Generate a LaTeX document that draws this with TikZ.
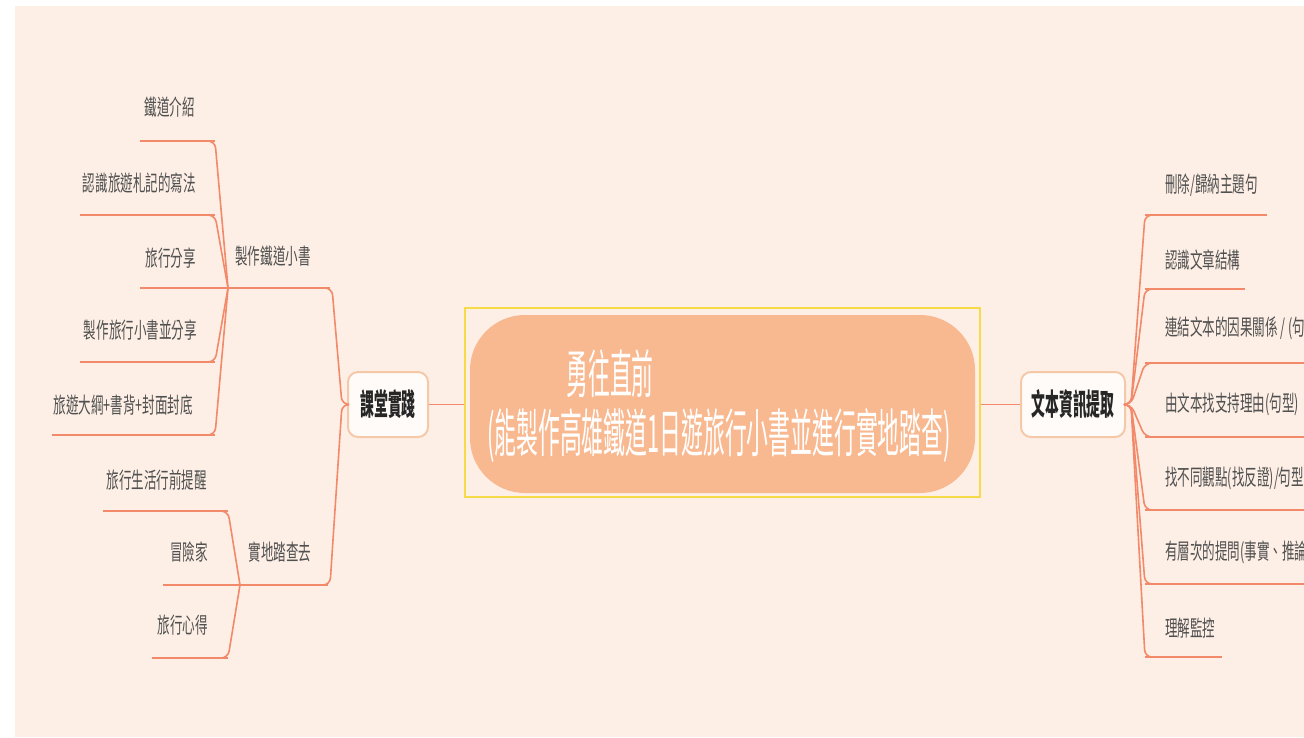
\documentclass[tikz,border=0pt]{standalone}
\usepackage{fontspec}
\usetikzlibrary{calc}
\newfontfamily\leaffont[FakeStretch=0.57]{Noto Sans CJK TC}
\newfontfamily\hubfont[FakeStretch=0.46]{Noto Sans CJK TC}
\newfontfamily\centfont[FakeStretch=0.42]{Noto Sans CJK TC}
\definecolor{bgc}{HTML}{FDEFE5}
\definecolor{linec}{HTML}{F2896A}
\definecolor{centc}{HTML}{F9B990}
\definecolor{yel}{HTML}{F6DA48}
\definecolor{hubb}{HTML}{F5C9A8}
\definecolor{hubf}{HTML}{FFFBF8}
\definecolor{leaft}{HTML}{505050}
\begin{document}
\begin{tikzpicture}[x=1pt,y=-1pt,
  leaf/.style={inner sep=0pt, text=leaft, font=\leaffont\fontsize{22}{26}\selectfont},
  hub/.style={draw=hubb, line width=2pt, fill=hubf, rounded corners=10pt, minimum height=65pt, inner sep=0pt, text=black!85, font=\hubfont\bfseries\fontsize{30}{34}\selectfont},
  ctext/.style={inner sep=0pt, text=white, font=\centfont\fontsize{52}{58}\selectfont},
  uline/.style={draw=linec, line width=2.8pt},
  conn/.style={draw=linec, line width=1.6pt, rounded corners=7pt}
]
\useasboundingbox (0,0) rectangle (1304,737);
\clip (0,0) rectangle (1304,737);
\fill[white] (0,0) rectangle (1304,737);
\fill[bgc] (15,6) rectangle (1304,737);

% central
\node[draw=yel, line width=2.5pt, minimum width=515pt, minimum height=189pt, inner sep=0pt] (c) at (722.5,402.5) {};
\node[fill=centc, rounded corners=55pt, minimum width=505pt, minimum height=178pt, inner sep=0pt] (ci) at (722.5,404) {};
\node[ctext] (t1) at (610,374) {勇往直前};
\node[ctext] (t2) at (719,436) {(能製作高雄鐵道1日遊旅行小書並進行實地踏查)};

% hubs
\node[hub, minimum width=80pt] (kt) at (388,404.5) {課堂實踐};
\node[hub, minimum width=104pt] (rn) at (1073,404.5) {文本資訊提取};
\draw[conn] (kt.east) -- (kt.east -| c.west);
\draw[conn] (c.east |- rn.west) -- (rn.west);

% left sub-nodes
\node[leaf] (s1) at (273,256) {製作鐵道小書};
\node[leaf] (s2) at (280,552) {實地踏查去};
\coordinate (s1l) at (228,288); \coordinate (s1r) at (330,288);
\coordinate (s2l) at (240,585); \coordinate (s2r) at (328,585);
\draw[uline] (s1l) -- (s1r);
\draw[uline] (s2l) -- (s2r);
\draw[conn] (kt.west) -- ++(-5,0) -- ($(s1r)+(2,0)$) -- ($(s1r)+(-12,0)$);
\draw[conn] (kt.west) -- ++(-5,0) -- ($(s2r)+(2,0)$) -- ($(s2r)+(-12,0)$);

% left leaves group 1
\node[leaf, anchor=east] (a1) at (195,107) {鐵道介紹};
\node[leaf, anchor=east] (a2) at (196,183) {認識旅遊札記的寫法};
\node[leaf, anchor=east] (a3) at (196,258) {旅行分享};
\node[leaf, anchor=east] (a4) at (197,330) {製作旅行小書並分享};
\node[leaf, anchor=east] (a5) at (193,405) {旅遊大綱+書背+封面封底};
\coordinate (a1l) at (140,141); \coordinate (a1r) at (215,141);
\coordinate (a2l) at (80,215);  \coordinate (a2r) at (215,215);
\coordinate (a3l) at (140,288);
\coordinate (a4l) at (80,362);  \coordinate (a4r) at (215,362);
\coordinate (a5l) at (52,435);  \coordinate (a5r) at (215,435);
\draw[uline] (a1l) -- (a1r);
\draw[uline] (a2l) -- (a2r);
\draw[uline] (a3l) -- (s1l);
\draw[uline] (a4l) -- (a4r);
\draw[uline] (a5l) -- (a5r);
\draw[conn] (s1l) -- (a1r) -- ++(-12,0);
\draw[conn] (s1l) -- (a2r) -- ++(-12,0);
\draw[conn] (s1l) -- (a4r) -- ++(-12,0);
\draw[conn] (s1l) -- (a5r) -- ++(-12,0);

% left leaves group 2
\node[leaf, anchor=east] (b1) at (207,480) {旅行生活行前提醒};
\node[leaf, anchor=east] (b2) at (208,552) {冒險家};
\node[leaf, anchor=east] (b3) at (208,625) {旅行心得};
\coordinate (b1l) at (103,511); \coordinate (b1r) at (228,511);
\coordinate (b2l) at (163,585);
\coordinate (b3l) at (152,658); \coordinate (b3r) at (228,658);
\draw[uline] (b1l) -- (b1r);
\draw[uline] (b2l) -- (s2l);
\draw[uline] (b3l) -- (b3r);
\draw[conn] (s2l) -- (b1r) -- ++(-12,0);
\draw[conn] (s2l) -- (b3r) -- ++(-12,0);

% right leaves
\node[leaf, anchor=west] (r1) at (1165,185) {刪除/歸納主題句};
\node[leaf, anchor=west] (r2) at (1165,260) {認識文章結構};
\node[leaf, anchor=west] (r3) at (1165,328) {連結文本的因果關係 / (句型)};
\node[leaf, anchor=west] (r4) at (1165,404) {由文本找支持理由(句型)};
\node[leaf, anchor=west] (r5) at (1165,478) {找不同觀點(找反證)/句型};
\node[leaf, anchor=west] (r6) at (1165,552) {有層次的提問(事實、推論)};
\node[leaf, anchor=west] (r7) at (1165,628) {理解監控};
\coordinate (r1l) at (1145,215); \coordinate (r1r) at (1267,215);
\coordinate (r2l) at (1145,289); \coordinate (r2r) at (1245,289);
\coordinate (r3l) at (1145,363); \coordinate (r3r) at (1310,363);
\coordinate (r4l) at (1145,437); \coordinate (r4r) at (1310,437);
\coordinate (r5l) at (1145,510); \coordinate (r5r) at (1310,510);
\coordinate (r6l) at (1145,584); \coordinate (r6r) at (1310,584);
\coordinate (r7l) at (1145,657); \coordinate (r7r) at (1222,657);
\foreach \i in {1,...,7} {
  \draw[uline] (r\i l) -- (r\i r);
  \draw[conn] (rn.east) -- ++(5,0) -- (r\i l) -- ++(12,0);
}
\end{tikzpicture}
\end{document}
